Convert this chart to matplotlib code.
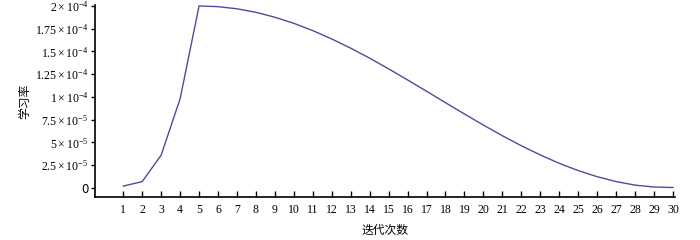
import numpy as np
import matplotlib as mpl
import matplotlib.pyplot as plt

mpl.rcParams['mathtext.fontset'] = 'custom'
mpl.rcParams['mathtext.rm'] = 'Liberation Serif'
mpl.rcParams['mathtext.it'] = 'Liberation Serif'

# data
epochs = list(range(1, 31))
lr = [0.02e-4, 0.07e-4, 0.36e-4, 0.98e-4, 2.0e-4,
      1.992e-4, 1.969e-4, 1.930e-4, 1.876e-4, 1.809e-4,
      1.729e-4, 1.637e-4, 1.536e-4, 1.426e-4, 1.309e-4,
      1.187e-4, 1.063e-4, 0.937e-4, 0.813e-4, 0.691e-4,
      0.574e-4, 0.464e-4, 0.363e-4, 0.271e-4, 0.191e-4,
      0.124e-4, 0.070e-4, 0.031e-4, 0.010e-4, 0.005e-4]

ytick_vals = [0, 2.5e-5, 5e-5, 7.5e-5, 1e-4, 1.25e-4, 1.5e-4, 1.75e-4, 2e-4]
ytick_labels = ['0', r'$2.5\times10^{-5}$', r'$5\times10^{-5}$', r'$7.5\times10^{-5}$',
                r'$1\times10^{-4}$', r'$1.25\times10^{-4}$', r'$1.5\times10^{-4}$',
                r'$1.75\times10^{-4}$', r'$2\times10^{-4}$']

fig = plt.figure(figsize=(7, 2.4), dpi=100)
ax = fig.add_axes([0.136, 0.179, 0.828, 0.80])
ax.plot(epochs, lr, color='#4b4d9b', linewidth=1.0)

ax.set_xlim(-0.48, 30.1)
ax.set_ylim(-1e-5, 2.01e-4)
ax.set_xticks(epochs)
ax.set_xticklabels([str(e) for e in epochs], fontfamily='Liberation Serif', fontsize=8.5)
ax.set_yticks(ytick_vals)
ax.set_yticklabels(ytick_labels, fontsize=8.5)
ax.tick_params(axis='x', direction='in', length=4, width=1, pad=5)
ax.tick_params(axis='y', direction='out', length=3, width=1, pad=2)

ax.spines['top'].set_visible(False)
ax.spines['right'].set_visible(False)
ax.spines['left'].set_linewidth(1.2)
ax.spines['bottom'].set_linewidth(1.2)

ax.set_xlabel('迭代次数', fontfamily='Noto Sans CJK SC', fontsize=8.5)
ax.xaxis.set_label_coords(0.5, -0.14)
ax.set_ylabel('学习率', fontfamily='Noto Sans CJK SC', fontsize=8.5)
ax.yaxis.set_label_coords(-0.11, 0.5)

fig.savefig('out.png', dpi=100)
